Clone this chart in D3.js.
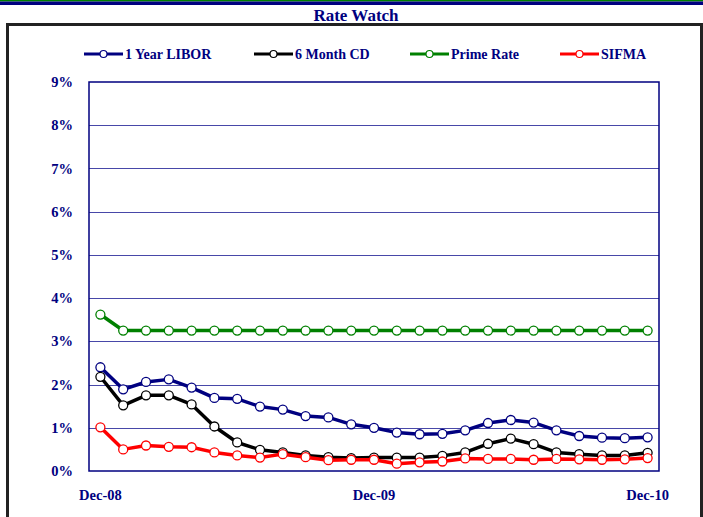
<!DOCTYPE html>
<html><head><meta charset="utf-8">
<script src="https://cdn.jsdelivr.net/npm/d3@7"></script>
<style>body{margin:0;background:#fff}svg{display:block}</style>
</head><body>
<svg id="c" width="703" height="517"></svg>
<script>
const months = ["Dec-08","Jan-09","Feb-09","Mar-09","Apr-09","May-09","Jun-09","Jul-09","Aug-09","Sep-09","Oct-09","Nov-09","Dec-09","Jan-10","Feb-10","Mar-10","Apr-10","May-10","Jun-10","Jul-10","Aug-10","Sep-10","Oct-10","Nov-10","Dec-10"];
const libor = [2.40,1.89,2.06,2.12,1.93,1.69,1.67,1.49,1.42,1.27,1.24,1.08,1.00,0.89,0.85,0.86,0.94,1.11,1.18,1.12,0.94,0.81,0.77,0.76,0.78];
const cd6m = [2.18,1.52,1.75,1.75,1.54,1.03,0.66,0.49,0.43,0.36,0.32,0.30,0.31,0.31,0.31,0.35,0.43,0.63,0.75,0.62,0.43,0.39,0.36,0.36,0.42];
const prime = [3.62,3.25,3.25,3.25,3.25,3.25,3.25,3.25,3.25,3.25,3.25,3.25,3.25,3.25,3.25,3.25,3.25,3.25,3.25,3.25,3.25,3.25,3.25,3.25,3.25];
const sifma = [1.01,0.50,0.59,0.56,0.55,0.43,0.36,0.31,0.39,0.32,0.25,0.26,0.26,0.17,0.20,0.22,0.29,0.28,0.28,0.26,0.28,0.27,0.26,0.27,0.30];
const yTicks = [0,1,2,3,4,5,6,7,8,9];
const xTickLabels = ["Dec-08","Dec-09","Dec-10"];
const seriesNames = ["1 Year LIBOR","6 Month CD","Prime Rate","SIFMA"];
const seriesColors = ["#000080","#000000","#008000","#ff0000"];
const seriesData = [libor, cd6m, prime, sifma];

const svg = d3.select("#c");
const font = "'Liberation Serif','Times New Roman',serif";
const navy = "#000080";

// top bars
svg.append("rect").attr("x",0).attr("y",0).attr("width",703).attr("height",1.5).attr("fill","#008000");
svg.append("rect").attr("x",0).attr("y",1.5).attr("width",703).attr("height",3.5).attr("fill",navy);

// title
svg.append("text").attr("x",356).attr("y",21).attr("text-anchor","middle")
  .attr("font-family",font).attr("font-weight","bold").attr("font-size",17).attr("fill",navy).text("Rate Watch");

// outer box
svg.append("rect").attr("x",7.5).attr("y",24.5).attr("width",694).attr("height",520)
  .attr("fill","none").attr("stroke","#222").attr("stroke-width",3);

const L = 89, R = 659, T = 82, B = 471;
const x = d3.scaleBand().domain(months).range([L,R]);
const y = d3.scaleLinear().domain([0,9]).range([B,T]);
const cx = m => x(m) + x.bandwidth()/2;

// gridlines
svg.append("g").selectAll("line").data(yTicks.filter(t=>t>0&&t<9)).join("line")
  .attr("x1",L).attr("x2",R).attr("y1",d=>Math.round(y(d))+0.5).attr("y2",d=>Math.round(y(d))+0.5)
  .attr("stroke","#4848a8").attr("stroke-width",1);

// plot border
svg.append("rect").attr("x",L).attr("y",T).attr("width",R-L).attr("height",B-T)
  .attr("fill","none").attr("stroke",navy).attr("stroke-width",1.5);

// y axis labels
const yAxis = d3.axisLeft(y).tickValues(yTicks).tickFormat(d=>d+"%").tickSize(0).tickPadding(16);
const gy = svg.append("g").attr("transform",`translate(${L},0)`).call(yAxis);
gy.select(".domain").remove();
gy.selectAll("text").attr("font-family",font).attr("font-weight","bold").attr("font-size",14.5).attr("fill",navy);

// x axis labels
const xAxis = d3.axisBottom(x).tickValues(xTickLabels).tickSize(0).tickPadding(19);
const gx = svg.append("g").attr("transform",`translate(0,${B})`).call(xAxis);
gx.select(".domain").remove();
gx.selectAll("text").attr("font-family",font).attr("font-weight","bold").attr("font-size",14.5).attr("fill",navy);

// series
const line = d3.line().x((d,i)=>cx(months[i])).y(d=>y(d));
seriesData.forEach((data,k)=>{
  const g = svg.append("g");
  g.append("path").datum(data).attr("d",line).attr("fill","none")
    .attr("stroke",seriesColors[k]).attr("stroke-width",3.5).attr("stroke-linejoin","round");
  g.selectAll("circle").data(data).join("circle")
    .attr("cx",(d,i)=>cx(months[i])).attr("cy",d=>y(d)).attr("r",4.5)
    .attr("fill","#fff").attr("stroke",seriesColors[k]).attr("stroke-width",1.3);
});

// legend
const legX = [84,254,410,560];
seriesNames.forEach((name,k)=>{
  const g = svg.append("g").attr("transform",`translate(${legX[k]},54)`);
  g.append("line").attr("x1",0).attr("x2",39).attr("y1",0).attr("y2",0)
    .attr("stroke",seriesColors[k]).attr("stroke-width",3);
  g.append("circle").attr("cx",19.5).attr("cy",0).attr("r",3.5)
    .attr("fill","#fff").attr("stroke",seriesColors[k]).attr("stroke-width",1.2);
  g.append("text").attr("x",41).attr("y",5).attr("font-family",font).attr("font-weight","bold")
    .attr("font-size",14).attr("fill",navy).text(name);
});
</script>
</body></html>
